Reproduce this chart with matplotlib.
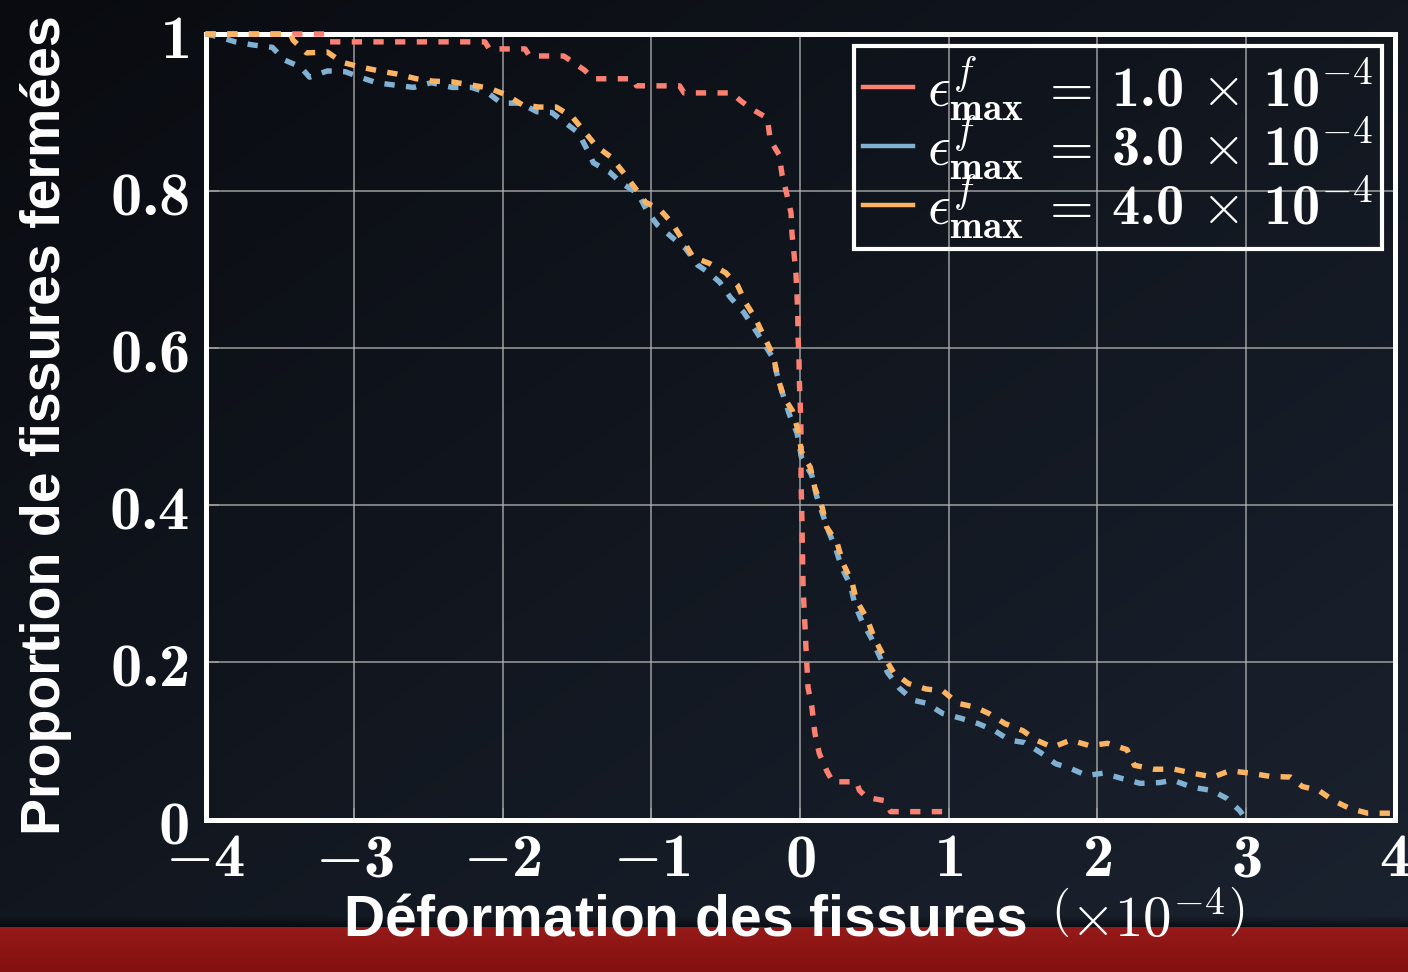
import numpy as np
import matplotlib
matplotlib.use("Agg")
import matplotlib.pyplot as plt
from matplotlib.lines import Line2D

# Computer Modern for math, with the bold face for \mathbf
plt.rcParams["mathtext.fontset"] = "custom"
plt.rcParams["mathtext.rm"] = "cmr10"
plt.rcParams["mathtext.it"] = "cmmi10"
plt.rcParams["mathtext.bf"] = "cmb10"
plt.rcParams["mathtext.sf"] = "cmss10"
plt.rcParams["mathtext.cal"] = "cmsy10"
plt.rcParams["mathtext.fallback"] = "cm"

# ---------------------------------------------------------------- data
# crack strain (x 1e-4) and proportion of closed cracks for each max strain
strain_e1 = [-4.0, -3.20, -3.18, -2.12, -2.09, -1.85, -1.82, -1.59, -1.55, -1.45,
             -1.39, -1.12, -1.10, -0.81, -0.78, -0.46, -0.40, -0.32, -0.22, -0.20,
             -0.14, -0.12, -0.09, -0.06, -0.054, -0.04, -0.027, -0.02, -0.015, -0.013,
             -0.007, -0.005, 0.0, 0.005, 0.007, 0.007, 0.013, 0.02, 0.027, 0.034,
             0.04, 0.047, 0.054, 0.08, 0.10, 0.13, 0.18, 0.22, 0.38, 0.40,
             0.45, 0.57, 0.61, 0.96, 0.98, 1.0]
closed_e1 = [1.0, 1.0, 0.990, 0.990, 0.981, 0.981, 0.972, 0.972, 0.967, 0.954,
             0.943, 0.943, 0.934, 0.934, 0.925, 0.925, 0.915, 0.904, 0.893, 0.865,
             0.846, 0.820, 0.797, 0.772, 0.746, 0.720, 0.694, 0.668, 0.641, 0.615,
             0.589, 0.563, 0.536, 0.511, 0.483, 0.432, 0.381, 0.301, 0.270, 0.245,
             0.219, 0.194, 0.168, 0.143, 0.110, 0.084, 0.062, 0.048, 0.048, 0.037,
             0.028, 0.024, 0.010, 0.010, 0.003, 0.0]

strain_e3 = [-4.0, -3.90, -3.80, -3.68, -3.55, -3.47, -3.36, -3.30, -3.18, -3.06,
             -2.96, -2.85, -2.73, -2.60, -2.48, -2.34, -2.21, -2.10, -2.01, -1.88,
             -1.77, -1.67, -1.58, -1.49, -1.43, -1.39, -1.28, -1.20, -1.09, -1.03,
             -0.96, -0.86, -0.77, -0.69, -0.62, -0.54, -0.47, -0.38, -0.32, -0.25,
             -0.18, -0.15, -0.11, -0.07, -0.02, 0.01, 0.08, 0.11, 0.15, 0.19,
             0.24, 0.28, 0.34, 0.37, 0.42, 0.48, 0.54, 0.59, 0.67, 0.76,
             0.85, 0.96, 1.08, 1.20, 1.31, 1.41, 1.51, 1.62, 1.72, 1.82,
             1.93, 2.04, 2.17, 2.29, 2.42, 2.51, 2.64, 2.77, 2.87, 2.96, 3.0]
closed_e3 = [1.0, 0.996, 0.990, 0.986, 0.983, 0.967, 0.958, 0.945, 0.953, 0.952,
             0.945, 0.938, 0.935, 0.932, 0.938, 0.932, 0.932, 0.925, 0.912, 0.912,
             0.901, 0.900, 0.887, 0.874, 0.852, 0.836, 0.824, 0.810, 0.797, 0.775,
             0.757, 0.741, 0.727, 0.706, 0.697, 0.684, 0.665, 0.646, 0.629, 0.608,
             0.587, 0.563, 0.538, 0.515, 0.492, 0.461, 0.438, 0.413, 0.390, 0.368,
             0.345, 0.321, 0.298, 0.273, 0.251, 0.231, 0.206, 0.187, 0.167, 0.152,
             0.148, 0.135, 0.129, 0.122, 0.113, 0.101, 0.098, 0.085, 0.071, 0.065,
             0.056, 0.059, 0.052, 0.046, 0.047, 0.050, 0.041, 0.037, 0.027, 0.011, 0.0]

strain_e4 = [-4.0, -3.43, -3.41, -3.32, -3.18, -3.08, -2.96, -2.83, -2.71, -2.58,
             -2.47, -2.34, -2.21, -2.09, -1.97, -1.87, -1.76, -1.64, -1.53, -1.46,
             -1.37, -1.27, -1.19, -1.11, -1.04, -0.94, -0.86, -0.79, -0.72, -0.61,
             -0.50, -0.42, -0.37, -0.30, -0.24, -0.18, -0.15, -0.11, -0.05, -0.01,
             0.01, 0.07, 0.10, 0.15, 0.18, 0.25, 0.29, 0.35, 0.38, 0.45,
             0.50, 0.56, 0.63, 0.73, 0.85, 0.96, 1.06, 1.18, 1.27, 1.38,
             1.50, 1.59, 1.70, 1.82, 1.95, 2.07, 2.20, 2.25, 2.38, 2.52,
             2.64, 2.78, 2.89, 3.03, 3.16, 3.30, 3.38, 3.49, 3.59, 3.70,
             3.82, 3.99]
closed_e4 = [1.0, 1.0, 0.992, 0.976, 0.977, 0.964, 0.958, 0.953, 0.949, 0.943,
             0.940, 0.939, 0.935, 0.931, 0.922, 0.910, 0.907, 0.907, 0.894, 0.878,
             0.857, 0.843, 0.824, 0.804, 0.786, 0.776, 0.759, 0.738, 0.716, 0.708,
             0.696, 0.680, 0.659, 0.638, 0.614, 0.591, 0.563, 0.538, 0.520, 0.493,
             0.468, 0.448, 0.422, 0.397, 0.372, 0.352, 0.326, 0.302, 0.279, 0.256,
             0.231, 0.209, 0.187, 0.173, 0.166, 0.164, 0.148, 0.143, 0.135, 0.122,
             0.113, 0.101, 0.092, 0.101, 0.094, 0.097, 0.089, 0.069, 0.064, 0.064,
             0.059, 0.054, 0.062, 0.059, 0.055, 0.054, 0.042, 0.037, 0.024, 0.014,
             0.008, 0.008]

series_labels = [r"$\epsilon^{f}_{\mathbf{max}}\;=\,\mathbf{1.0}\,\times\,\mathbf{10}^{-4}$",
                 r"$\epsilon^{f}_{\mathbf{max}}\;=\,\mathbf{3.0}\,\times\,\mathbf{10}^{-4}$",
                 r"$\epsilon^{f}_{\mathbf{max}}\;=\,\mathbf{4.0}\,\times\,\mathbf{10}^{-4}$"]
series_colors = ["#FB8072", "#80B1D3", "#FDB462"]

x_ticks = [-4, -3, -2, -1, 0, 1, 2, 3, 4]
x_ticklabels = [r"$-\mathbf{4}$", r"$-\mathbf{3}$", r"$-\mathbf{2}$", r"$-\mathbf{1}$",
                r"$\mathbf{0}$", r"$\mathbf{1}$", r"$\mathbf{2}$", r"$\mathbf{3}$",
                r"$\mathbf{4}$"]
y_ticks = [0, 0.2, 0.4, 0.6, 0.8, 1.0]
y_ticklabels = [r"$\mathbf{0}$", r"$\mathbf{0.2}$", r"$\mathbf{0.4}$", r"$\mathbf{0.6}$",
                r"$\mathbf{0.8}$", r"$\mathbf{1}$"]

# ---------------------------------------------------------------- figure
W, H = 1408, 972
fig = plt.figure(figsize=(W / 100, H / 100), dpi=100)

# background: dark diagonal gradient with a red band at the bottom
yy, xx = np.mgrid[0:H, 0:W]
t = (xx / W + yy / H) / 2.0
c0 = np.array([9, 11, 16]) / 255.0
c1 = np.array([27, 35, 48]) / 255.0
img = c0[None, None, :] * (1 - t[..., None]) + c1[None, None, :] * t[..., None]
band_top = 927
shadow = np.clip((yy - (band_top - 12)) / 12.0, 0, 1)[..., None]
img = img * (1 - 0.55 * shadow)
rows = np.arange(H)
tb = np.clip((rows - band_top) / (H - band_top), 0, 1)
red_top = np.array([150, 26, 25]) / 255.0
red_bot = np.array([130, 17, 15]) / 255.0
red = red_top[None, :] * (1 - tb[:, None]) + red_bot[None, :] * tb[:, None]
img[band_top:, :, :] = red[band_top:, None, :]
fig.figimage(img, xo=0, yo=0, origin="upper", zorder=-10)

ax = fig.add_axes([205.5 / W, 1 - 819.5 / H, 1189 / W, 785.5 / H])
ax.set_facecolor("none")

series = [(strain_e1, closed_e1), (strain_e3, closed_e3), (strain_e4, closed_e4)]
for (xs, ys), col in zip(series, series_colors):
    ax.plot(xs, ys, color=col, lw=3.9, linestyle=(0, (1.9, 2.1)),
            dash_capstyle="butt", clip_on=False, zorder=4)

ax.set_xlim(-4, 4)
ax.set_ylim(0, 1)
ax.set_xticks(x_ticks)
ax.set_xticklabels(x_ticklabels)
ax.set_yticks(y_ticks)
ax.set_yticklabels(y_ticklabels)
ax.tick_params(axis="both", direction="in", length=9, width=1.2, colors="#9a9a9a",
               labelcolor="white", labelsize=45)
ax.tick_params(axis="x", pad=7)
ax.tick_params(axis="y", pad=12)
ax.grid(True, color="#b4b4b4", lw=1.1, alpha=0.85)
ax.set_axisbelow(True)
for sp in ax.spines.values():
    sp.set_color("white")
    sp.set_linewidth(3.6)
    sp.set_zorder(3)

ax.set_ylabel("Proportion de fissures fermées", fontsize=40, fontweight="bold",
              family="Liberation Sans", color="white")
ax.yaxis.set_label_coords(-0.134, 0.502)
ax.yaxis.label.set_va("center")

ax.set_xlabel(r"Déformation des fissures $\,\left(\times 10^{-4}\right)$", fontsize=41,
              fontweight="bold", family="Liberation Sans", color="white")
ax.xaxis.set_label_coords(0.495, -0.1496)
ax.xaxis.label.set_va("baseline")

handles = [Line2D([], [], color=c, lw=3.2) for c in series_colors]
leg = ax.legend(handles, series_labels, loc="upper right",
                bbox_to_anchor=((1382 - 205.5) / 1189, (819.5 - 46) / 785.5),
                borderaxespad=0, fontsize=40.5, frameon=True, fancybox=False,
                framealpha=1.0, handlelength=0.9, handletextpad=0.25,
                labelspacing=-0.17, borderpad=0.15, labelcolor="white")
frame = leg.get_frame()
frame.set_facecolor("none")
frame.set_edgecolor("white")
frame.set_linewidth(3.0)
leg.set_zorder(5)

fig.savefig("out.png", dpi=100)
